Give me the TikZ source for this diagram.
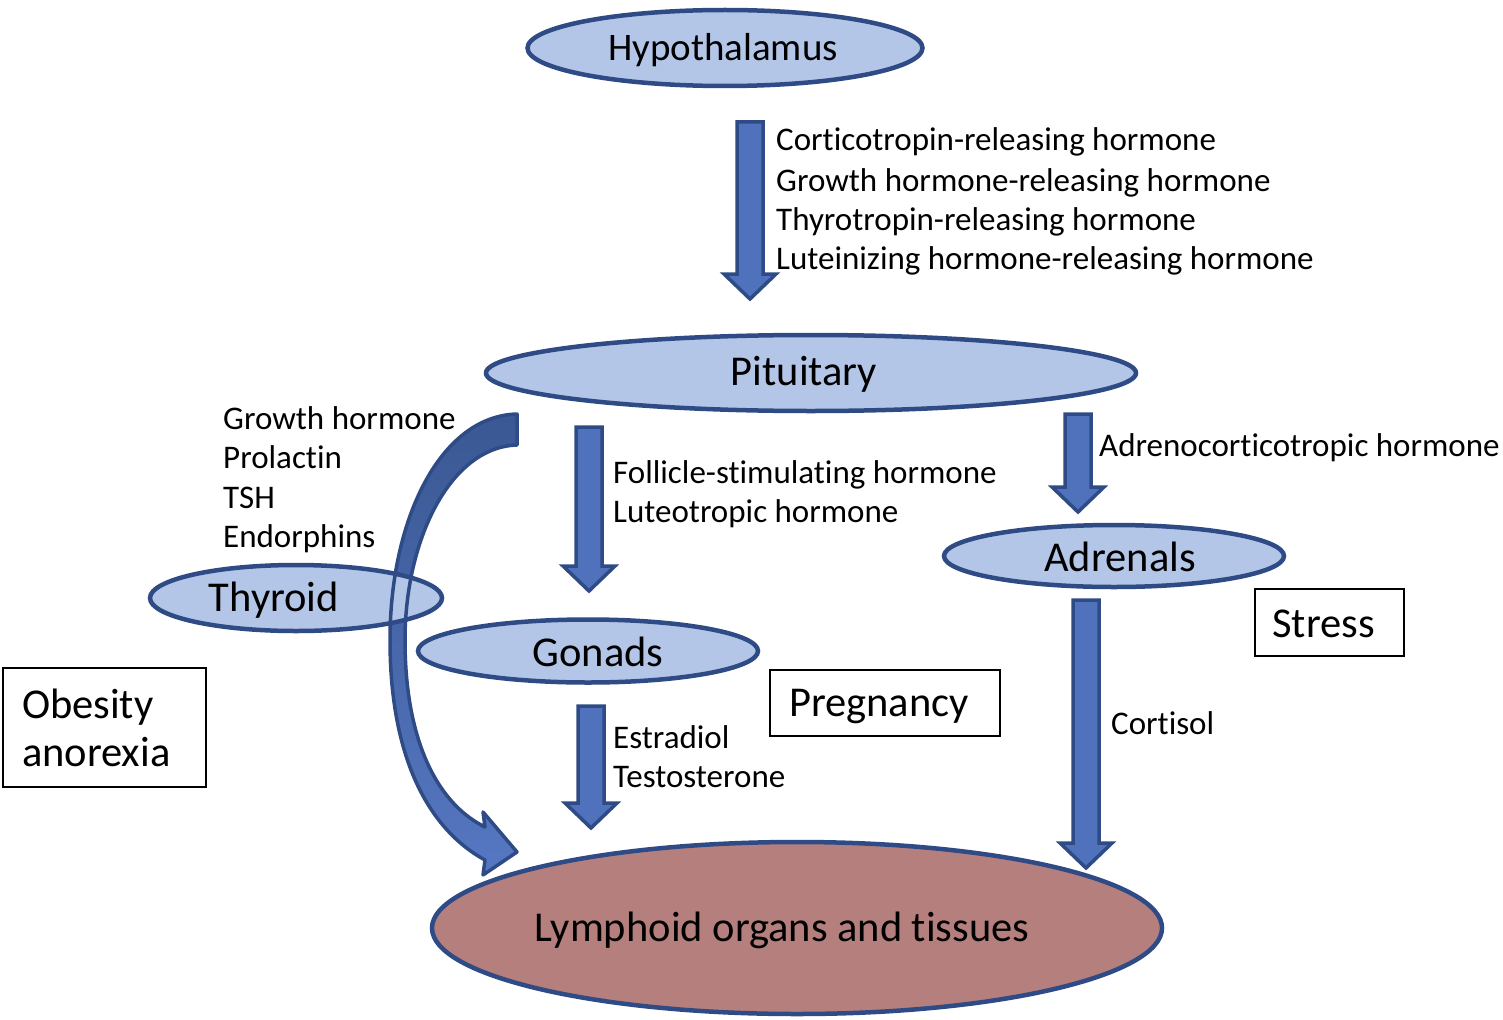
\documentclass[tikz,border=0pt]{standalone}
\usepackage{fontspec}
\setmainfont{Carlito}[Ligatures=NoCommon]
\usetikzlibrary{shapes.geometric,calc}
\definecolor{ellfill}{HTML}{B4C6E7}
\definecolor{ellline}{HTML}{2F4B85}
\definecolor{lymfill}{HTML}{B47F7D}
\definecolor{arrfill}{HTML}{5072BC}
\definecolor{arrline}{HTML}{2F4B85}
\definecolor{arrtop}{HTML}{3A5893}
\definecolor{arrbot}{HTML}{5677C2}
\newcommand\blockarr[2]{%
  \filldraw[barrow] let \p1=(#1), \p2=(#2) in
    (\x1-13pt,\y1) -- (\x1+13pt,\y1) -- (\x1+13pt,\y2+25pt) -- (\x1+26pt,\y2+25pt)
    -- (\x2,\y2) -- (\x1-26pt,\y2+25pt) -- (\x1-13pt,\y2+25pt) -- cycle;}
\begin{document}
\begin{tikzpicture}[x=1pt,y=-1pt,
  organ/.style={ellipse, draw=ellline, fill=ellfill, line width=4.5pt, inner sep=0pt},
  bigtext/.style={font=\fontsize{42.5}{48}\selectfont},
  smalltext/.style={font=\fontsize{33}{39.5}\selectfont, inner sep=0pt, anchor=base west},
  factorbox/.style={rectangle, draw=black, line width=2.5pt, font=\fontsize{42.5}{48}\selectfont},
  barrow/.style={fill=arrfill, draw=arrline, line width=3.5pt, line join=miter},
  curvarrow/.style={top color=arrtop, bottom color=arrbot, draw=arrline, line width=3.5pt, line join=round}]
\useasboundingbox (0,0) rectangle (1503,1019);

% curved arrow (fill first)
\coordinate (cstartA) at (517,414);
\coordinate (cstartB) at (517,445);
\path[curvarrow, draw=none]
  (cstartA) .. controls (440,416) and (390,520) .. (390,640)
  .. controls (390,760) and (430,830) .. (485,860)
  -- (483,875) -- (517,852) -- (483,812) -- (485,827)
  .. controls (440,805) and (405,745) .. (405,640)
  .. controls (405,540) and (450,447) .. (cstartB) -- cycle;

% organs
\node[organ, minimum width=395, minimum height=76,
  label={[font=\fontsize{39}{46}\selectfont, xshift=-2pt, yshift=-2pt]center:Hypothalamus}] (hyp) at (725,48) {};
\node[organ, minimum width=650, minimum height=76,
  label={[bigtext, xshift=-7pt, yshift=-1pt]center:Pituitary}] (pit) at (811,373) {};
\node[organ, minimum width=340, minimum height=62,
  label={[bigtext, xshift=6pt, yshift=-1pt]center:Adrenals}] (adr) at (1114,556) {};
\node[organ, minimum width=292, minimum height=66,
  label={[bigtext, xshift=-22pt, yshift=-2pt]center:Thyroid}] (thy) at (296,598) {};
\node[organ, minimum width=340, minimum height=63,
  label={[bigtext, xshift=10pt, yshift=-1pt]center:Gonads}] (gon) at (588,651) {};
\node[organ, fill=lymfill, minimum width=730, minimum height=172,
  label={[bigtext, xshift=-15pt, yshift=-2pt]center:Lymphoid organs and tissues}] (lym) at (797,928) {};

% curved arrow outline (on top)
\draw[arrline, line width=3.5pt, line join=round]
  (cstartA) .. controls (440,416) and (390,520) .. (390,640)
  .. controls (390,760) and (430,830) .. (485,860)
  -- (483,875) -- (517,852) -- (483,812) -- (485,827)
  .. controls (440,805) and (405,745) .. (405,640)
  .. controls (405,540) and (450,447) .. (cstartB) -- cycle;

% straight block arrows
\coordinate (a1s) at (750,122);  \coordinate (a1e) at (750,299);
\coordinate (a2s) at (589,427);  \coordinate (a2e) at (589,591);
\coordinate (a3s) at (1078,414); \coordinate (a3e) at (1078,512);
\coordinate (a4s) at (591,706);  \coordinate (a4e) at (591,828);
\coordinate (a5s) at (1086,600); \coordinate (a5e) at (1086,868);
\blockarr{a1s}{a1e}
\blockarr{a2s}{a2e}
\blockarr{a3s}{a3e}
\blockarr{a4s}{a4e}
\blockarr{a5s}{a5e}

% hormone labels
\node[smalltext] (h1) at (776,151) {Corticotropin-releasing hormone};
\node[smalltext] (h2) at (776,191) {Growth hormone-releasing hormone};
\node[smalltext] (h3) at (776,230) {Thyrotropin-releasing hormone};
\node[smalltext] (h4) at (776,269) {Luteinizing hormone-releasing hormone};
\node[smalltext] (p1) at (223,429) {Growth hormone};
\node[smalltext] (p2) at (223,468) {Prolactin};
\node[smalltext] (p3) at (223,508) {TSH};
\node[smalltext] (p4) at (223,547) {Endorphins};
\node[smalltext] (g1) at (613,483) {Follicle-stimulating hormone};
\node[smalltext] (g2) at (613,522) {Luteotropic hormone};
\node[smalltext] (ac) at (1099,456) {Adrenocorticotropic hormone};
\node[smalltext] (s1) at (613,748) {Estradiol};
\node[smalltext] (s2) at (613,787) {Testosterone};
\node[smalltext] (co) at (1111,734) {Cortisol};

% factor boxes
\node[factorbox, minimum width=203, minimum height=119, text width=165, align=left, inner xsep=19pt] (obe) at (104.5,727.5) {Obesity\\anorexia};
\node[factorbox, minimum width=230, minimum height=66,
  label={[bigtext, xshift=-6pt, yshift=-4pt]center:Pregnancy}] (pre) at (885,703) {};
\node[factorbox, minimum width=149, minimum height=67,
  label={[bigtext, xshift=-6pt, yshift=-1pt]center:Stress}] (str) at (1329.5,622.5) {};
\end{tikzpicture}
\end{document}
